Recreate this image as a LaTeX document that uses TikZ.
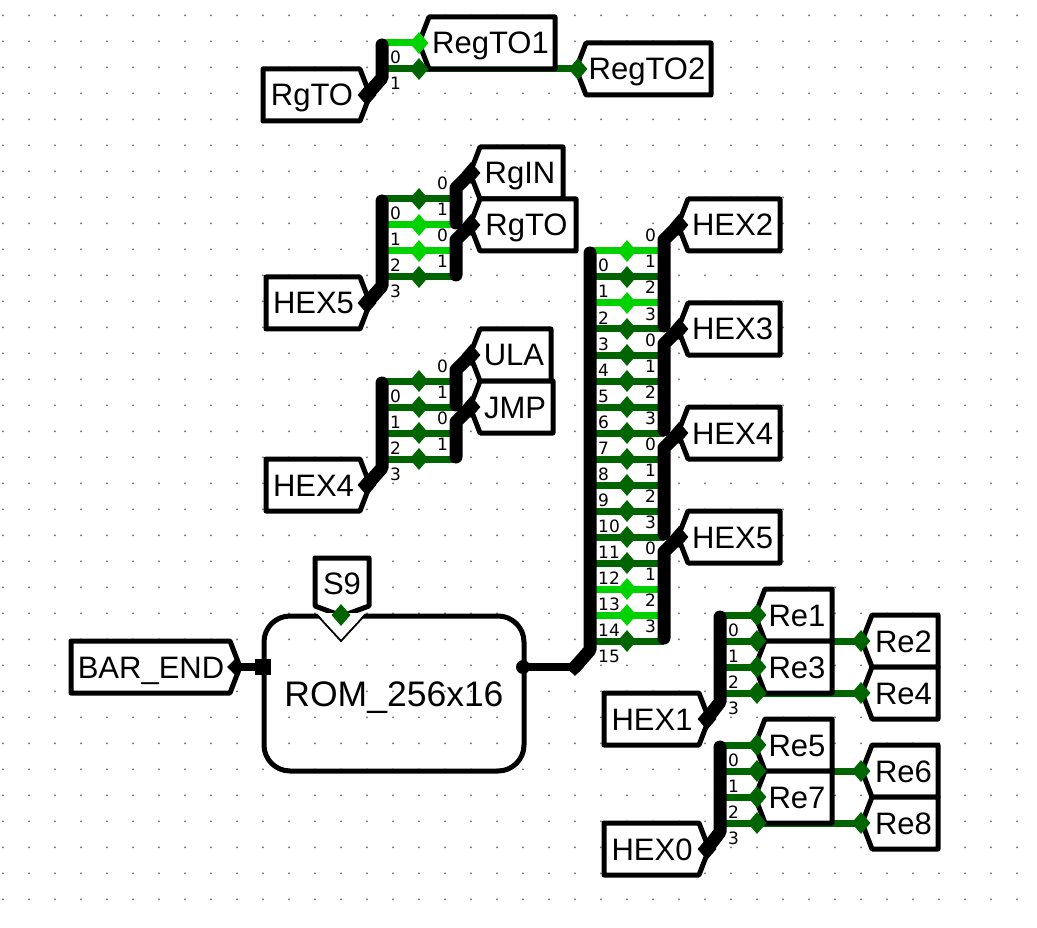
\documentclass[tikz,border=0pt]{standalone}
\usepackage{fontspec}
\setmainfont{Liberation Sans}
\newfontfamily\bitfont{DejaVu Sans}
\usetikzlibrary{shapes.geometric}
\definecolor{gdark}{HTML}{006400}
\definecolor{gbright}{HTML}{00D200}
\definecolor{griddot}{HTML}{808080}
\pgfdeclarelayer{dots}\pgfdeclarelayer{wires}\pgfdeclarelayer{top}
\pgfsetlayers{dots,wires,main,top}
\tikzset{
  wire/.style={line width=7pt,line cap=butt},
  bus/.style={line width=13pt,line cap=round,line join=round,draw=black},
  thickwire/.style={line width=8pt,draw=black},
  tunnel/.style={line width=5pt,draw=black,fill=white,line join=round},
  tuntext/.style={inner sep=0pt,anchor=base,font=\fontsize{31}{31}\selectfont},
  pin/.style={diamond,inner sep=0pt,minimum width=19pt,minimum height=22pt,draw=none},
  bit/.style={inner sep=0pt,anchor=base west,font=\bitfont\fontsize{17}{17}\selectfont},
}
% tunnel pointing west: name, corner x, right x, top y, text
\newcommand\tunW[5]{%
  \draw[tunnel] (#2,#4) -- (#3,#4) -- (#3,#4+52) -- (#2,#4+52) -- (#2-10,#4+26) -- cycle;
  \node[tuntext] (#1) at ({(#2+#3)/2-1.5},#4+37) {#5};}
% tunnel pointing east: name, left x, corner x, top y, text
\newcommand\tunE[5]{%
  \draw[tunnel] (#2,#4) -- (#3,#4) -- (#3+10,#4+26) -- (#3,#4+52) -- (#2,#4+52) -- cycle;
  \node[tuntext] (#1) at ({(#2+#3)/2+0.5},#4+37) {#5};}
% bit labels: x of the bus, y of the wire, text
\newcommand\bitL[3]{\node[bit] (bl-#1-#2) at (#1+8,#2+21) {#3};}
\newcommand\bitR[3]{\node[bit] (br-#1-#2) at (#1-19,#2-9) {#3};}
\begin{document}
\begin{tikzpicture}[x=1pt,y=-1pt]
\useasboundingbox (0,0) rectangle (1037,928);
\begin{pgfonlayer}{dots}
  \fill[white] (0,0) rectangle (1037,928);
  \fill[griddot] foreach \i in {0,...,39}{ foreach \j in {0,...,34}{ (3+26*\i-0.8,17+26*\j-0.8) rectangle ++(1.6,-1.6) } };
\end{pgfonlayer}

% ---------- RgTO splitter
\begin{pgfonlayer}{top}
  \node[pin,fill=black] (tipA) at (367,95) {};
  \node[pin,fill=gbright] (pA0) at (419,43) {};
  \node[pin,fill=gdark] (pA1) at (419,69) {};
  \node[pin,fill=gdark] (pRegB) at (578,69) {};
  \coordinate (barA0) at (382,43);
  \coordinate (barA1) at (382,69);
  \draw[bus] (382,45) -- (382,78) -- (tipA.center);
\end{pgfonlayer}
\tunE{RgTOa}{263}{360}{69}{RgTO}
\tunW{RegTOone}{429}{555}{17}{RegTO1}
\tunW{RegTOtwo}{586}{711}{43}{RegTO2}
\begin{pgfonlayer}{wires}
  \draw[wire,gbright] (barA0) -- (pA0.center);
  \draw[wire,gdark] (barA1) -- (pA1.center) -- (pRegB.center);
\end{pgfonlayer}
\bitL{382}{43}{0}
\bitL{382}{69}{1}

% ---------- HEX5 -> RgIN, RgTO
\begin{pgfonlayer}{top}
  \node[pin,fill=black] (tipB) at (367,303) {};
  \node[pin,fill=black] (tipBa) at (471,173) {};
  \node[pin,fill=black] (tipBb) at (471,225) {};
  \draw[bus] (382,201) -- (382,286) -- (tipB.center);
  \draw[bus] (456,223) -- (456,188) -- (tipBa.center);
  \draw[bus] (456,275) -- (456,240) -- (tipBb.center);
\end{pgfonlayer}
\tunE{HEXfiveA}{266}{360}{277}{HEX5}
\tunW{RgIN}{480}{563}{147}{RgIN}
\tunW{RgTOb}{480}{576}{199}{RgTO}
\foreach \i/\y/\c/\r in {0/199/gdark/0,1/225/gbright/1,2/251/gbright/0,3/277/gdark/1}{
  \begin{pgfonlayer}{top}\node[pin,fill=\c] (pB\i) at (419,\y) {};\end{pgfonlayer}
  \coordinate (bBl\i) at (382,\y);
  \coordinate (bBr\i) at (456,\y);
  \begin{pgfonlayer}{wires}\draw[wire,\c] (bBl\i) -- (pB\i.center) -- (bBr\i);\end{pgfonlayer}
  \bitL{382}{\y}{\i}
  \bitR{456}{\y}{\r}
}

% ---------- HEX4 -> ULA, JMP
\begin{pgfonlayer}{top}
  \node[pin,fill=black] (tipC) at (367,485) {};
  \node[pin,fill=black] (tipCa) at (471,355) {};
  \node[pin,fill=black] (tipCb) at (471,407) {};
  \draw[bus] (382,383) -- (382,468) -- (tipC.center);
  \draw[bus] (456,405) -- (456,370) -- (tipCa.center);
  \draw[bus] (456,457) -- (456,422) -- (tipCb.center);
\end{pgfonlayer}
\tunE{HEXfourA}{266}{360}{459}{HEX4}
\tunW{ULA}{480}{551}{329}{ULA}
\tunW{JMP}{480}{553}{381}{JMP}
\foreach \i/\y/\r in {0/381/0,1/407/1,2/433/0,3/459/1}{
  \begin{pgfonlayer}{top}\node[pin,fill=gdark] (pC\i) at (419,\y) {};\end{pgfonlayer}
  \coordinate (bCl\i) at (382,\y);
  \coordinate (bCr\i) at (456,\y);
  \begin{pgfonlayer}{wires}\draw[wire,gdark] (bCl\i) -- (pC\i.center) -- (bCr\i);\end{pgfonlayer}
  \bitL{382}{\y}{\i}
  \bitR{456}{\y}{\r}
}

% ---------- ROM output bus
\begin{pgfonlayer}{top}
  \node[pin,fill=black,minimum width=18pt,minimum height=18pt] (tipD) at (575,667) {};
  \node[pin,fill=black] (tipH2) at (679,225) {};
  \node[pin,fill=black] (tipH3) at (679,329) {};
  \node[pin,fill=black] (tipH4) at (679,433) {};
  \node[pin,fill=black] (tipH5) at (679,537) {};
  \draw[bus] (590,253) -- (590,650) -- (tipD.center);
  \draw[bus] (664,326) -- (664,240) -- (tipH2.center);
  \draw[bus] (664,430) -- (664,344) -- (tipH3.center);
  \draw[bus] (664,534) -- (664,448) -- (tipH4.center);
  \draw[bus] (664,638) -- (664,552) -- (tipH5.center);
\end{pgfonlayer}
\tunW{HEXtwo}{688}{780}{199}{HEX2}
\tunW{HEXthree}{688}{780}{303}{HEX3}
\tunW{HEXfourB}{688}{780}{407}{HEX4}
\tunW{HEXfiveB}{688}{780}{511}{HEX5}
\foreach \i/\y/\c/\r in {0/251/gbright/0,1/277/gdark/1,2/303/gbright/2,3/329/gdark/3,
  4/355/gdark/0,5/381/gdark/1,6/407/gdark/2,7/433/gdark/3,
  8/459/gdark/0,9/485/gdark/1,10/511/gdark/2,11/537/gdark/3,
  12/563/gdark/0,13/589/gbright/1,14/615/gbright/2,15/641/gdark/3}{
  \begin{pgfonlayer}{top}\node[pin,fill=\c] (pD\i) at (627,\y) {};\end{pgfonlayer}
  \coordinate (bDl\i) at (590,\y);
  \coordinate (bDr\i) at (664,\y);
  \begin{pgfonlayer}{wires}\draw[wire,\c] (bDl\i) -- (pD\i.center) -- (bDr\i);\end{pgfonlayer}
  \bitL{590}{\y}{\i}
  \bitR{664}{\y}{\r}
}

% ---------- ROM
\draw[line width=5pt,rounded corners=26pt] (264,616) rectangle (524,771);
\node[inner sep=0pt,anchor=base,font=\fontsize{35.5}{35.5}\selectfont] (rom) at (394,706.5) {ROM\_256x16};
\draw[tunnel] (315,558) -- (369,558) -- (369,606) -- (342,616) -- (315,606) -- cycle;
\node[tuntext] (S9) at (342,594) {S9};
\fill[white] (317,613) -- (365,613) -- (341,641) -- cycle;
\draw[line width=1.8pt] (317,615) -- (341,641) -- (365,615);
\begin{pgfonlayer}{top}
  \node[pin,fill=gdark] (pS9) at (341,615) {};
  \node[pin,fill=black,minimum width=18pt,minimum height=18pt] (pBar) at (236,667) {};
  \node[rectangle,fill=black,inner sep=0pt,minimum size=16pt] (pRomIn) at (263,667) {};
  \node[circle,fill=black,inner sep=0pt,minimum size=14pt] (pRomOut) at (523,667) {};
\end{pgfonlayer}
\tunE{BAREND}{71}{230}{641}{BAR\_END}
\begin{pgfonlayer}{wires}
  \draw[thickwire] (pBar.center) -- (pRomIn.center);
  \draw[thickwire] (pRomOut.center) -- (tipD.center);
\end{pgfonlayer}

% ---------- HEX1 -> Re1..Re4
\begin{pgfonlayer}{top}
  \node[pin,fill=black] (tipE) at (707,719) {};
  \node[pin,fill=black] (tipF) at (707,849) {};
  \draw[bus] (720,617) -- (720,702) -- (tipE.center);
  \draw[bus] (720,747) -- (720,832) -- (tipF.center);
\end{pgfonlayer}
\tunE{HEXone}{604}{699}{693}{HEX1}
\tunE{HEXzero}{604}{699}{823}{HEX0}
\tunW{Rea}{765}{832}{589}{Re1}
\tunW{Rec}{765}{832}{641}{Re3}
\tunW{Reb}{872}{938}{615}{Re2}
\tunW{Red}{872}{938}{667}{Re4}
\tunW{Ree}{765}{832}{719}{Re5}
\tunW{Reg}{765}{832}{771}{Re7}
\tunW{Ref}{872}{938}{745}{Re6}
\tunW{Reh}{872}{938}{797}{Re8}
\foreach \g/\yy/\a/\b in {E/0/641/693,F/130/771/823}{
  \foreach \i in {0,1,2,3}{
    \pgfmathtruncatemacro\y{615+\yy+26*\i}
    \begin{pgfonlayer}{top}\node[pin,fill=gdark] (p\g\i) at (757,\y) {};\end{pgfonlayer}
    \coordinate (b\g\i) at (720,\y);
    \begin{pgfonlayer}{wires}\draw[wire,gdark] (b\g\i) -- (p\g\i.center);\end{pgfonlayer}
    \bitL{720}{\y}{\i}
  }
  \begin{pgfonlayer}{top}
    \node[pin,fill=gdark] (q\g1) at (861,\a) {};
    \node[pin,fill=gdark] (q\g3) at (861,\b) {};
  \end{pgfonlayer}
  \begin{pgfonlayer}{wires}
    \draw[wire,gdark] (p\g1.center) -- (q\g1.center);
    \draw[wire,gdark] (p\g3.center) -- (q\g3.center);
  \end{pgfonlayer}
}
\end{tikzpicture}
\end{document}
